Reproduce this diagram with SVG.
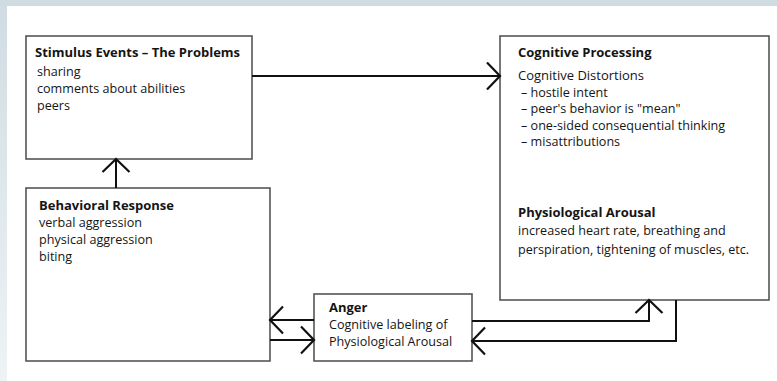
<svg xmlns="http://www.w3.org/2000/svg" width="777" height="381" viewBox="0 0 777 381">
<defs>
<linearGradient id="bg" x1="0" y1="0" x2="0" y2="1">
<stop offset="0" stop-color="#cfdce2"/>
<stop offset="1" stop-color="#eef3f5"/>
</linearGradient>
<marker id="ah" markerWidth="20" markerHeight="30" refX="14" refY="15" orient="auto" markerUnits="userSpaceOnUse" viewBox="0 0 20 30">
<path d="M1,1.5 L14,15 L1,28.5" fill="none" stroke="#111" stroke-width="2.2"/>
</marker>
<style>
.box{fill:#fff;stroke:#555;stroke-width:1.6}
.t{font-family:"Open Sans","Noto Sans",sans-serif;font-size:12.6px;fill:#151515}
.b{font-weight:bold;font-size:13px}
.m{font-size:13px}
.c{fill:none;stroke:#111;stroke-width:2;marker-end:url(#ah)}
</style>
</defs>
<rect x="0" y="0" width="777" height="381" fill="url(#bg)"/>
<rect x="0" y="0" width="777" height="6" fill="#cfdce2"/>
<rect x="7" y="6" width="770" height="375" fill="#fff"/>

<g id="stimulus">
<rect class="box" x="26" y="36" width="226" height="123"/>
<text class="t b" x="35" y="57">Stimulus Events – The Problems</text>
<text class="t" x="37" y="76">sharing</text>
<text class="t" x="37" y="93">comments about abilities</text>
<text class="t" x="37" y="110">peers</text>
</g>

<g id="cognitive">
<rect class="box" x="500" y="36" width="269" height="264"/>
<text class="t b" x="518" y="57">Cognitive Processing</text>
<text class="t m" x="518" y="80">Cognitive Distortions</text>
<text class="t" x="521" y="97">– hostile intent</text>
<text class="t" x="521" y="113">– peer's behavior is "mean"</text>
<text class="t" x="521" y="130">– one-sided consequential thinking</text>
<text class="t" x="521" y="146">– misattributions</text>
<text class="t b" x="518" y="217">Physiological Arousal</text>
<text class="t" x="518" y="235">increased heart rate, breathing and</text>
<text class="t" x="518" y="254">perspiration, tightening of muscles, etc.</text>
</g>

<g id="behavioral">
<rect class="box" x="26" y="188" width="244" height="173"/>
<text class="t b" x="39" y="210">Behavioral Response</text>
<text class="t" x="39" y="227">verbal aggression</text>
<text class="t" x="39" y="244">physical aggression</text>
<text class="t" x="39" y="261">biting</text>
</g>

<g id="anger">
<rect class="box" x="314" y="294" width="158" height="67"/>
<text class="t b" x="329" y="312">Anger</text>
<text class="t" x="329" y="329">Cognitive labeling of</text>
<text class="t" x="329" y="346">Physiological Arousal</text>
</g>

<g id="connectors">
<path class="c" d="M252,76 H500"/>
<path class="c" d="M116,188 V159"/>
<path class="c" d="M314,320 H270"/>
<path class="c" d="M270,340 H314"/>
<path class="c" d="M472,321 H649 V300"/>
<path class="c" d="M676,300 V341 H472"/>
</g>
</svg>
